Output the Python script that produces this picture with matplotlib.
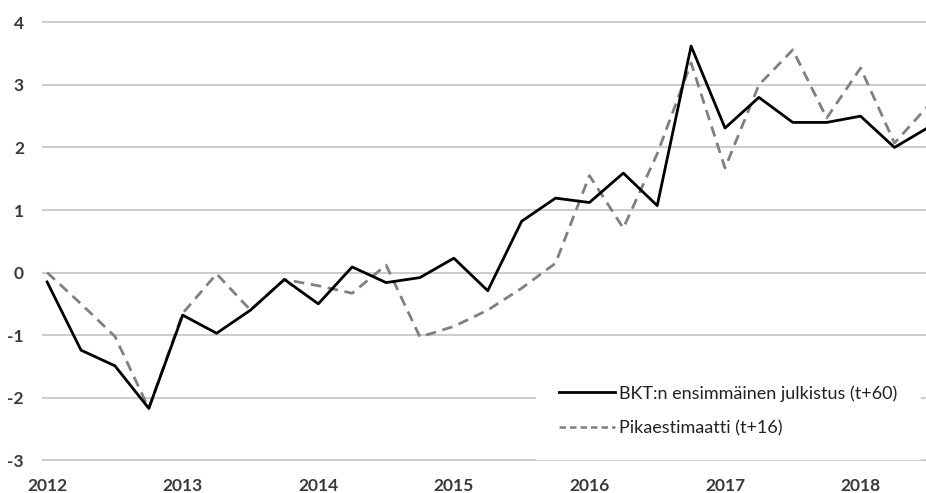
import matplotlib
matplotlib.use("Agg")
import matplotlib.pyplot as plt
from matplotlib.lines import Line2D
import numpy as np

plt.rcParams['font.family'] = ['Lato', 'DejaVu Sans']

years = ["2012", "2013", "2014", "2015", "2016", "2017", "2018"]
bkt = [-0.15, -1.24, -1.49, -2.17, -0.68, -0.97, -0.60, -0.11,
       -0.50, 0.09, -0.16, -0.08, 0.23, -0.29, 0.82, 1.19,
       1.12, 1.59, 1.07, 3.62, 2.31, 2.80, 2.40, 2.40,
       2.50, 2.00, 2.32]
pika = [0.00, -0.50, -1.02, -2.17, -0.65, -0.02, -0.60, -0.11,
        -0.21, -0.33, 0.12, -1.03, -0.86, -0.60, -0.25, 0.15,
        1.55, 0.71, 1.90, 3.35, 1.67, 3.00, 3.56, 2.47,
        3.27, 2.07, 2.67]
label_bkt = "BKT:n ensimmäinen julkistus (t+60)"
label_pika = "Pikaestimaatti (t+16)"

x = np.arange(len(bkt))

fig = plt.figure(figsize=(9.26, 4.93), dpi=100)
ax = fig.add_axes([0.0454, 0.0623, 0.9546, 0.8965])

ax.plot(x, bkt, color='black', lw=2.0, zorder=3)
ax.plot(x, pika, color='#808080', lw=2.0, ls=(0, (3.8, 2.4)), zorder=2)

ax.set_ylim(-3.032, 4.032)
ax.set_xlim(-0.15, 25.93)
ax.set_yticks(range(-3, 5))
ax.set_yticklabels([str(v) for v in range(-3, 5)])
ax.set_xticks(np.arange(0, 4 * len(years), 4))
ax.set_xticklabels(years)

ax.grid(axis='y', color='#c4c4c4', lw=1.2)
ax.set_axisbelow(True)
for s in ax.spines.values():
    s.set_visible(False)
ax.tick_params(axis='both', length=0, labelsize=12.5, labelcolor='#3a3a3a')
ax.tick_params(axis='y', pad=13)
ax.tick_params(axis='x', pad=11)
for t in ax.get_xticklabels() + ax.get_yticklabels():
    t.set_fontweight('bold')

handles = [Line2D([], [], color='black', lw=2.0),
           Line2D([], [], color='#808080', lw=1.8, ls=(0, (2.6, 1.6)))]
leg = ax.legend(handles, [label_bkt, label_pika],
                loc='center left', bbox_to_anchor=(0.5788, 0.1667),
                bbox_transform=fig.transFigure, frameon=True, fancybox=False,
                edgecolor='none', facecolor='white', framealpha=1,
                fontsize=13, handlelength=3.05, handletextpad=0.25,
                labelspacing=1.05, borderpad=1.3, borderaxespad=0)
for t in leg.get_texts():
    t.set_color('#222222')

fig.savefig('out.png', dpi=100)
